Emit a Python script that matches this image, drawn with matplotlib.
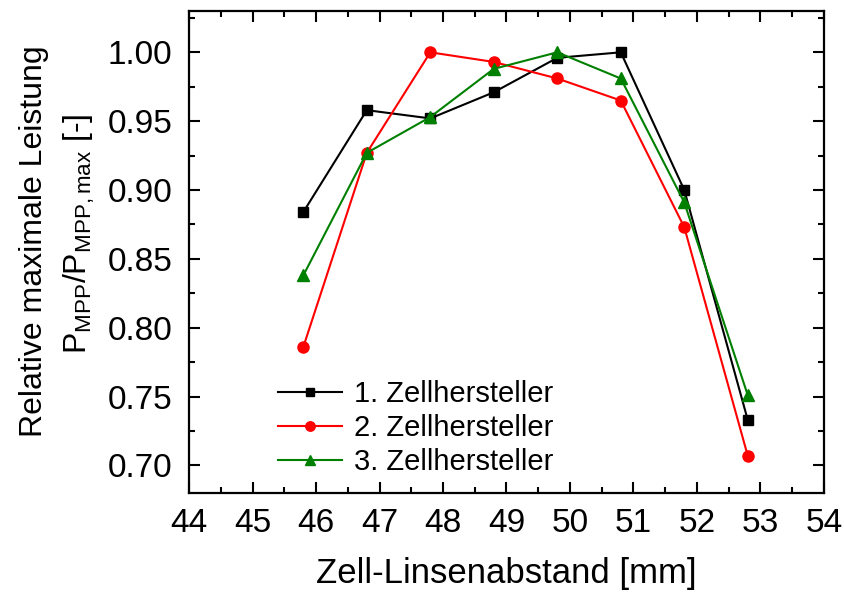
import matplotlib
matplotlib.use("Agg")
import matplotlib.pyplot as plt
from matplotlib.ticker import MultipleLocator, FormatStrFormatter

plt.rcParams['font.family'] = ['Liberation Sans', 'DejaVu Sans']
plt.rcParams['mathtext.fontset'] = 'custom'
plt.rcParams['mathtext.rm'] = 'Liberation Sans'
plt.rcParams['mathtext.it'] = 'Liberation Sans'

abstand = [45.8, 46.8, 47.8, 48.8, 49.8, 50.8, 51.8, 52.8]
hersteller1 = [0.884, 0.958, 0.952, 0.971, 0.996, 1.000, 0.900, 0.733]
hersteller2 = [0.786, 0.927, 1.000, 0.993, 0.981, 0.965, 0.873, 0.707]
hersteller3 = [0.838, 0.927, 0.953, 0.988, 1.000, 0.981, 0.891, 0.751]
labels = ["1. Zellhersteller", "2. Zellhersteller", "3. Zellhersteller"]

fig = plt.figure(figsize=(8.45, 5.98), dpi=100)
ax = fig.add_axes([0.2237, 0.1756, 0.7514, 0.806])

ax.plot(abstand, hersteller1, color="black", marker="s", markersize=7, lw=1.5, label=labels[0])
ax.plot(abstand, hersteller2, color="red", marker="o", markersize=8, lw=1.5, label=labels[1])
ax.plot(abstand, hersteller3, color="green", marker="^", markersize=9, lw=1.5, label=labels[2])

ax.set_xlim(44, 54)
ax.set_ylim(0.68, 1.03)
ax.xaxis.set_major_locator(MultipleLocator(1))
ax.xaxis.set_minor_locator(MultipleLocator(0.5))
ax.yaxis.set_major_locator(MultipleLocator(0.05))
ax.yaxis.set_minor_locator(MultipleLocator(0.025))
ax.yaxis.set_major_formatter(FormatStrFormatter("%.2f"))

ax.tick_params(which="both", direction="in", top=True, right=True, width=1.5)
ax.tick_params(which="major", length=8, labelsize=24)
ax.tick_params(axis="x", which="major", pad=11)
ax.tick_params(axis="y", which="major", pad=12)
ax.tick_params(which="minor", length=4.5)
for s in ax.spines.values():
    s.set_linewidth(1.6)

ax.set_xlabel("Zell-Linsenabstand [mm]", fontsize=25, labelpad=13)
fig.text(34 / 845, 1 - 241 / 598, "Relative maximale Leistung", rotation=90,
         fontsize=23, ha="center", va="center")
fig.text(79 / 845, 1 - 234 / 598, "$\\mathregular{P_{MPP}/P_{MPP,max}}$ [-]", rotation=90,
         fontsize=23, ha="center", va="center")

ax.legend(loc="lower left", bbox_to_anchor=(0.14, 0.035), frameon=False, fontsize=21,
          handlelength=2.2, handletextpad=0.4, labelspacing=0.2, markerscale=0.85,
          borderpad=0, borderaxespad=0)

plt.savefig("out.png", dpi=100)
